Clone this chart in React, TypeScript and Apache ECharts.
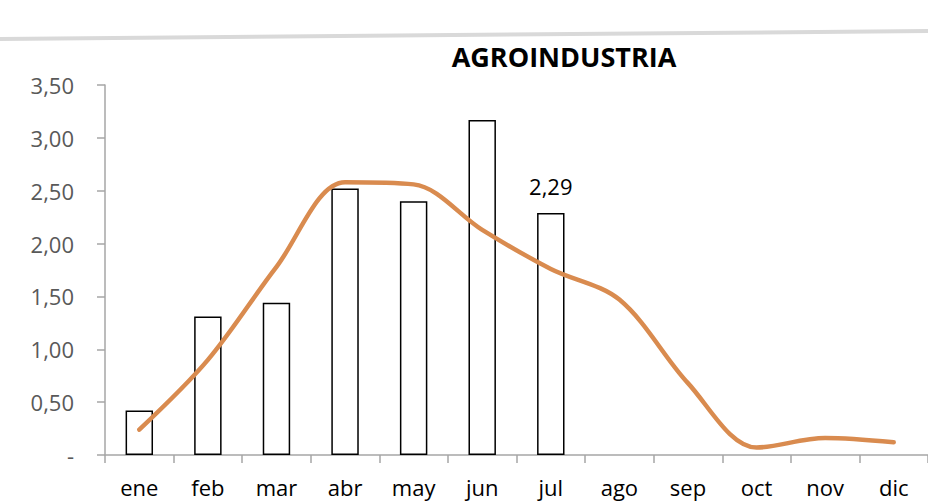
import React, { useEffect, useRef } from "react";
import * as echarts from "echarts";

const months = ["ene", "feb", "mar", "abr", "may", "jun", "jul", "ago", "sep", "oct", "nov", "dic"];
const barValues: (number | null)[] = [0.42, 1.31, 1.44, 2.52, 2.4, 3.17, 2.29, null, null, null, null, null];
const lineValues = [0.24, 0.9, 1.78, 2.58, 2.56, 2.13, 1.76, 1.47, 0.68, 0.07, 0.16, 0.12];
const labeledIndex = 6;
const title = "AGROINDUSTRIA";

const fmt = (v: number) => (v === 0 ? "-" : v.toFixed(2).replace(".", ","));

export default function App() {
  const ref = useRef<HTMLDivElement>(null);
  useEffect(() => {
    if (!ref.current) return;
    const chart = echarts.init(ref.current, null, { renderer: "svg" });
    chart.setOption({
      animation: false,
      backgroundColor: "#ffffff",
      title: {
        text: title,
        left: 559,
        textAlign: "center",
        top: 38,
        textStyle: { fontFamily: "Open Sans", fontWeight: "bold", fontSize: 27, color: "#000" },
      },
      graphic: [
        {
          type: "line",
          shape: { x1: 0, y1: 39, x2: 928, y2: 31 },
          style: { stroke: "#d9d9d9", lineWidth: 4 },
        },
      ],
      grid: { left: 105, right: 0, top: 85, bottom: 48, containLabel: false },
      xAxis: {
        type: "category",
        data: months,
        boundaryGap: true,
        axisLine: { lineStyle: { color: "#a6a6a6", width: 1.5 } },
        axisTick: { show: true, length: 8, lineStyle: { color: "#a6a6a6", width: 1.5 } },
        axisLabel: { color: "#000", fontFamily: "Open Sans", fontSize: 22, margin: 21 },
      },
      yAxis: {
        type: "value",
        min: 0,
        max: 3.5,
        interval: 0.5,
        splitLine: { show: false },
        axisLine: { show: true, lineStyle: { color: "#a6a6a6", width: 1.5 } },
        axisTick: { show: true, length: 8, lineStyle: { color: "#a6a6a6", width: 1.5 } },
        axisLabel: {
          color: "#595959",
          fontFamily: "Open Sans",
          fontSize: 22,
          margin: 31,
          formatter: (v: number) => fmt(v),
        },
      },
      series: [
        {
          type: "bar",
          data: barValues.map((v, i) =>
            i === labeledIndex
              ? {
                  value: v,
                  label: {
                    show: true,
                    position: "top",
                    distance: 16,
                    color: "#000",
                    fontFamily: "Open Sans",
                    fontSize: 22,
                    formatter: (p: any) => fmt(p.value),
                  },
                }
              : v
          ),
          barWidth: "40%",
          itemStyle: { color: "#ffffff", borderColor: "#000000", borderWidth: 1.5 },
        },
        {
          type: "line",
          data: lineValues,
          smooth: 0.33,
          symbol: "none",
          lineStyle: { color: "#d98b4f", width: 4.5, cap: "round" },
        },
      ],
    });
    return () => chart.dispose();
  }, []);
  return <div ref={ref} style={{ position: "fixed", left: 0, top: 0, width: 928, height: 503 }} />;
}
